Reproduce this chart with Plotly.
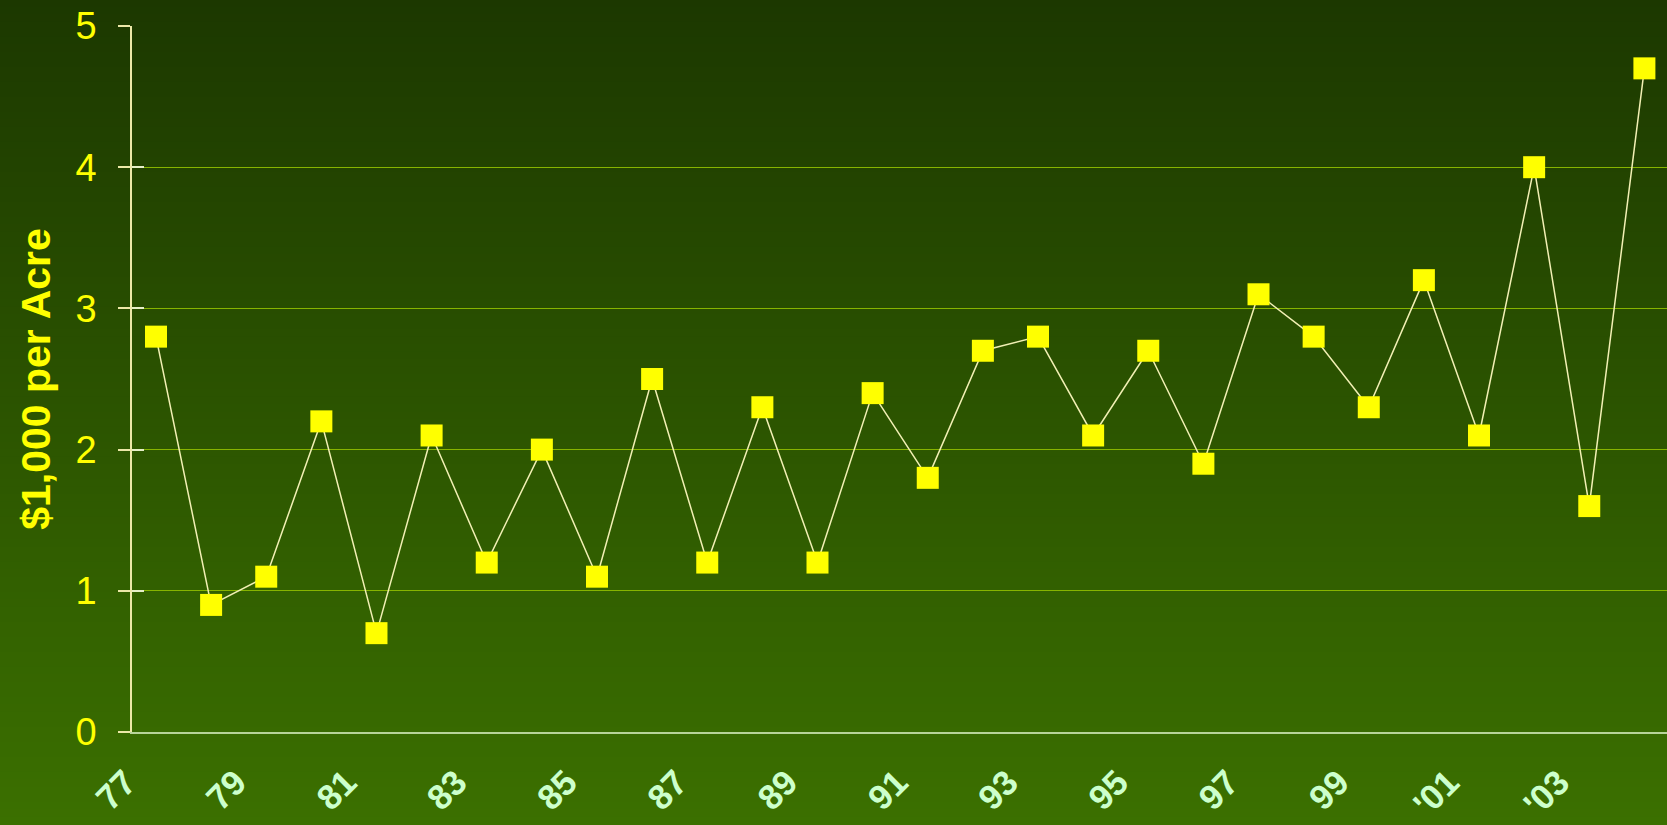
import plotly.graph_objects as go

years = ["77", "78", "79", "80", "81", "82", "83", "84", "85", "86", "87", "88", "89", "90",
         "91", "92", "93", "94", "95", "96", "97", "98", "99", "'00", "'01", "'02", "'03", "'04"]
values = [2.8, 0.9, 1.1, 2.2, 0.7, 2.1, 1.2, 2.0, 1.1, 2.5, 1.2, 2.3, 1.2, 2.4,
          1.8, 2.7, 2.8, 2.1, 2.7, 1.9, 3.1, 2.8, 2.3, 3.2, 2.1, 4.0, 1.6, 4.7]
shown_labels = ["77", "79", "81", "83", "85", "87", "89", "91", "93", "95", "97", "99", "'01", "'03"]
y_ticks = [0, 1, 2, 3, 4, 5]

xs = list(range(len(years)))
tickvals = [years.index(l) for l in shown_labels]

W, H = 1667, 825
L, R, T, B = 132, 0, 26, 93
pw, ph = W - L - R, H - T - B

fig = go.Figure()
fig.add_trace(go.Scatter(
    x=xs, y=values, mode="lines+markers",
    line=dict(color="#f2f0b4", width=1.5),
    marker=dict(symbol="square", size=22, color="#ffff00", line=dict(width=0)),
    hoverinfo="y", showlegend=False,
))
# invisible trace for a second y axis carrying the inside tick marks
fig.add_trace(go.Scatter(x=[0], y=[0], yaxis="y2", mode="markers",
                         marker=dict(opacity=0), showlegend=False, hoverinfo="skip"))

# vertical gradient background
top = (28, 56, 0)
bot = (59, 112, 0)
n = 110
shapes = []
for i in range(n):
    f = i / (n - 1)
    c = tuple(round(top[k] + (bot[k] - top[k]) * f) for k in range(3))
    ytop_px = i * H / n - 1
    ybot_px = (i + 1) * H / n + 1
    shapes.append(dict(
        type="rect", xref="paper", yref="paper",
        x0=-L / pw - 0.01, x1=1.01,
        y0=(H - B - ybot_px) / ph, y1=(H - B - ytop_px) / ph,
        line=dict(width=0), fillcolor="rgb(%d,%d,%d)" % c, layer="below",
    ))

fig.update_layout(
    width=W, height=H,
    margin=dict(l=L, r=R, t=T, b=B, autoexpand=False),
    paper_bgcolor="#2a5400",
    plot_bgcolor="rgba(0,0,0,0)",
    shapes=shapes,
    font=dict(family="Liberation Sans, Arial, sans-serif"),
    xaxis=dict(
        range=[-0.435, 27.41],
        tickmode="array", tickvals=tickvals, ticktext=shown_labels,
        tickangle=-45, automargin=False,
        tickfont=dict(size=35, color="#ccffcc", family="Liberation Sans, Arial, sans-serif", weight="bold"),
        showgrid=False, zeroline=False,
        showline=True, linecolor="#b8d49a", linewidth=1.5,
        ticks="", ticklabelstandoff=14, ticklabelshift=-30,
    ),
    yaxis=dict(
        range=[0, 5], tickvals=y_ticks, automargin=False,
        tickfont=dict(size=38, color="#ffff00"),
        showgrid=True, gridcolor="#86b400", gridwidth=1.2,
        zeroline=False,
        showline=True, linecolor="#ece8a8", linewidth=1.5,
        ticks="outside", ticklen=12, tickcolor="#ece8a8", tickwidth=1.5,
        ticklabelstandoff=14,
        title=dict(text="<b>$1,000 per Acre</b>", font=dict(size=41, color="#ffff00"), standoff=12),
    ),
    yaxis2=dict(
        range=[0, 5], tickvals=y_ticks, overlaying="y", side="left", automargin=False,
        showticklabels=False, showgrid=False, zeroline=False, showline=False,
        ticks="inside", ticklen=12, tickcolor="#e6efc8", tickwidth=1.5,
    ),
)

fig.write_html("out.html", config={"displayModeBar": False},
               post_script="document.body.style.margin='0';document.body.style.overflow='hidden';")
